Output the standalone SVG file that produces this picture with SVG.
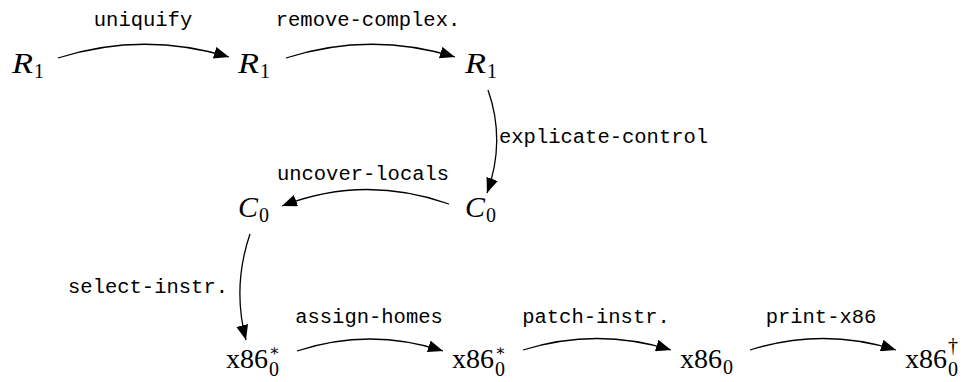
<svg xmlns="http://www.w3.org/2000/svg" width="968" height="382" viewBox="0 0 968 382">
<defs>
<marker id="ah" markerUnits="userSpaceOnUse" markerWidth="16" markerHeight="12" refX="15" refY="6" orient="auto" viewBox="0 0 16 12"><path d="M0,0 L15,6 L0,12 z" fill="#000"/></marker>
</defs>
<style>
.m{font-family:"Liberation Serif","DejaVu Serif",serif;font-size:28px;fill:#000}
.i{font-style:italic;font-size:30px}
.s{font-size:20px}
.st{font-family:"DejaVu Serif",serif;font-size:16px}
.lab{font-family:"Liberation Mono","DejaVu Sans Mono",monospace;font-size:20.5px;fill:#000}
.e{fill:none;stroke:#000;stroke-width:1.3;marker-end:url(#ah)}
</style>
<rect width="968" height="382" fill="#fff"/>
<g id="edges">
<path class="e" d="M58,58 Q143,31 229,57"/>
<path class="e" d="M286,58 Q370,31 455,57"/>
<path class="e" d="M488,90 Q506,141 487,193"/>
<path class="e" d="M449,204 Q364,174 282,206"/>
<path class="e" d="M250,234 Q232,287 246,340"/>
<path class="e" d="M297,351 Q370,327 443,351"/>
<path class="e" d="M523,350 Q597,327 671,350"/>
<path class="e" d="M750,350 Q823,327 896,350"/>
</g>
<g id="labels">
<text class="lab" x="143" y="26" text-anchor="middle">uniquify</text>
<text class="lab" x="368" y="26" text-anchor="middle">remove-complex.</text>
<text class="lab" x="499" y="143">explicate-control</text>
<text class="lab" x="363" y="180" text-anchor="middle">uncover-locals</text>
<text class="lab" x="228" y="293" text-anchor="end">select-instr.</text>
<text class="lab" x="369" y="323" text-anchor="middle">assign-homes</text>
<text class="lab" x="596" y="323" text-anchor="middle">patch-instr.</text>
<text class="lab" x="821" y="323" text-anchor="middle">print-x86</text>
</g>
<g id="r1a"><text class="m i" x="12" y="73" textLength="21" lengthAdjust="spacingAndGlyphs">R</text><text class="m s" x="34" y="78">1</text></g>
<g id="r1b"><text class="m i" x="238" y="73" textLength="21" lengthAdjust="spacingAndGlyphs">R</text><text class="m s" x="260" y="78">1</text></g>
<g id="r1c"><text class="m i" x="465" y="73" textLength="21" lengthAdjust="spacingAndGlyphs">R</text><text class="m s" x="487" y="78">1</text></g>
<g id="c0a"><text class="m i" x="465" y="217" textLength="20" lengthAdjust="spacingAndGlyphs">C</text><text class="m s" x="486" y="222">0</text></g>
<g id="c0b"><text class="m i" x="238" y="217" textLength="20" lengthAdjust="spacingAndGlyphs">C</text><text class="m s" x="259" y="222">0</text></g>
<g id="x86a"><text class="m" x="226" y="368">x86</text><text class="m st" x="269" y="356">∗</text><text class="m s" x="269" y="376">0</text></g>
<g id="x86b"><text class="m" x="452" y="368">x86</text><text class="m st" x="495" y="356">∗</text><text class="m s" x="495" y="376">0</text></g>
<g id="x86c"><text class="m" x="680" y="368">x86</text><text class="m s" x="723" y="374">0</text></g>
<g id="x86d"><text class="m" x="905" y="368">x86</text><text class="m s" x="948" y="352">†</text><text class="m s" x="948" y="376">0</text></g>
</svg>
